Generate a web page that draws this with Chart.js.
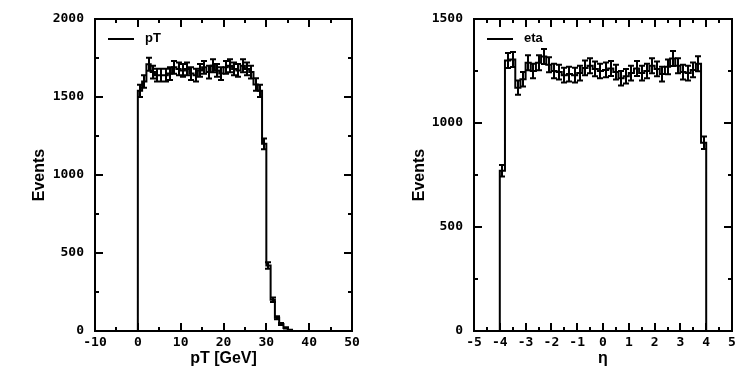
<!DOCTYPE html>
<html>
<head>
<meta charset="utf-8">
<script src="https://cdn.jsdelivr.net/npm/chart.js@4.4.0/dist/chart.umd.min.js"></script>
<style>
  html, body { margin: 0; padding: 0; background: #fff; }
  #wrap { position: relative; width: 744px; height: 373px; }
  .panel { position: absolute; top: 0; width: 372px; height: 373px; }
</style>
</head>
<body>
<div id="wrap">
  <div class="panel" style="left:0"><canvas id="ptChart" width="372" height="373"></canvas></div>
  <div class="panel" style="left:372px"><canvas id="etaChart" width="372" height="373"></canvas></div>
</div>
<script>
// pT histogram, 1 GeV bins
const ptEdges = [0,1,2,3,4,5,6,7,8,9,10,11,12,13,14,15,16,17,18,19,20,21,22,23,24,25,26,27,28,29,30,31,32,33,34,35,36];
const ptCounts = [1540,1600,1710,1660,1640,1640,1640,1650,1690,1680,1670,1680,1650,1640,1670,1690,1660,1700,
                  1670,1650,1690,1700,1680,1670,1700,1680,1660,1580,1540,1200,420,200,85,45,20,6];
const ptXTicks = [-10,0,10,20,30,40,50];
const ptYTicks = [0,500,1000,1500,2000];

// eta histogram, 0.2 bins
const etaEdges = [-4,-3.8,-3.6,-3.4,-3.2,-3,-2.8,-2.6,-2.4,-2.2,-2,-1.8,-1.6,-1.4,-1.2,-1,-0.8,-0.6,-0.4,-0.2,0,
                  0.2,0.4,0.6,0.8,1,1.2,1.4,1.6,1.8,2,2.2,2.4,2.6,2.8,3,3.2,3.4,3.6,3.8,4];
const etaCounts = [770,1300,1305,1170,1210,1290,1250,1290,1320,1280,1250,1245,1230,1235,1230,1240,1265,1275,1260,1250,
                   1255,1262,1245,1215,1225,1240,1262,1240,1250,1275,1260,1235,1270,1310,1275,1245,1240,1255,1285,905];
const etaXTicks = [-5,-4,-3,-2,-1,0,1,2,3,4,5];
const etaYTicks = [0,500,1000,1500];

const tickFont = { family: "'DejaVu Sans Mono', monospace", size: 13, weight: 'bold' };
const titleFont = { family: "'Liberation Sans', Arial, sans-serif", size: 16, weight: 'bold' };

function histPoints(edges, counts) {
  const pts = [{ x: edges[0], y: 0 }];
  counts.forEach((c, i) => pts.push({ x: edges[i], y: c }));
  pts.push({ x: edges[edges.length - 1], y: counts[counts.length - 1] });
  pts.push({ x: edges[edges.length - 1], y: 0 });
  return pts;
}

// frame, inner ticks, error bars and legend
const histDecor = {
  id: 'histDecor',
  afterDatasetsDraw(chart, args, o) {
    const { ctx, chartArea: a, scales: { x, y } } = chart;
    ctx.save();
    ctx.strokeStyle = '#000';
    ctx.lineWidth = 2;

    // error bars
    ctx.beginPath();
    o.counts.forEach((c, i) => {
      const cx = Math.round(x.getPixelForValue((o.edges[i] + o.edges[i + 1]) / 2));
      const e = Math.sqrt(c);
      const y1 = y.getPixelForValue(c + e), y2 = y.getPixelForValue(c - e);
      ctx.moveTo(cx, y1); ctx.lineTo(cx, y2);
      ctx.moveTo(cx - 3, y1); ctx.lineTo(cx + 3, y1);
      ctx.moveTo(cx - 3, y2); ctx.lineTo(cx + 3, y2);
    });
    ctx.stroke();

    // frame
    ctx.strokeRect(a.left, a.top, a.right - a.left, a.bottom - a.top);

    // ticks on all four sides, minor ones halfway
    ctx.beginPath();
    const xt = o.xTicks, yt = o.yTicks;
    for (let i = 0; i < xt.length; i++) {
      const vals = [[xt[i], 8]];
      if (i < xt.length - 1) vals.push([(xt[i] + xt[i + 1]) / 2, 4]);
      vals.forEach(([v, len]) => {
        const px = Math.round(x.getPixelForValue(v));
        ctx.moveTo(px, a.bottom); ctx.lineTo(px, a.bottom - len);
        ctx.moveTo(px, a.top); ctx.lineTo(px, a.top + len);
      });
    }
    for (let i = 0; i < yt.length; i++) {
      const vals = [[yt[i], 8]];
      if (i < yt.length - 1) vals.push([(yt[i] + yt[i + 1]) / 2, 4]);
      vals.forEach(([v, len]) => {
        const py = Math.round(y.getPixelForValue(v));
        ctx.moveTo(a.left, py); ctx.lineTo(a.left + len, py);
        ctx.moveTo(a.right, py); ctx.lineTo(a.right - len, py);
      });
    }
    ctx.stroke();

    // legend
    ctx.beginPath();
    ctx.moveTo(a.left + 13, a.top + 20);
    ctx.lineTo(a.left + 39, a.top + 20);
    ctx.stroke();
    ctx.fillStyle = '#000';
    ctx.font = "bold 13px 'Liberation Sans', Arial, sans-serif";
    ctx.textBaseline = 'middle';
    ctx.fillText(o.label, a.left + 50, a.top + 19);
    ctx.restore();
  }
};

function makeChart(id, cfg) {
  return new Chart(document.getElementById(id), {
    type: 'line',
    data: {
      datasets: [{
        data: histPoints(cfg.edges, cfg.counts),
        stepped: true,
        borderColor: '#000',
        borderWidth: 2,
        pointRadius: 0,
        fill: false
      }]
    },
    options: {
      responsive: false,
      animation: false,
      layout: { padding: { top: 19, right: cfg.padRight, left: 0, bottom: 0 } },
      plugins: {
        legend: { display: false },
        tooltip: { enabled: false },
        histDecor: { edges: cfg.edges, counts: cfg.counts, xTicks: cfg.xTicks, yTicks: cfg.yTicks, label: cfg.label }
      },
      scales: {
        x: {
          type: 'linear',
          min: cfg.xTicks[0],
          max: cfg.xTicks[cfg.xTicks.length - 1],
          grid: { display: false, drawTicks: false },
          border: { display: false },
          afterBuildTicks: s => { s.ticks = cfg.xTicks.map(v => ({ value: v })); },
          afterFit: s => { s.height = 42; s.paddingLeft = 0; s.paddingRight = 0; },
          ticks: { font: tickFont, color: '#000', padding: 4, maxRotation: 0, autoSkip: false,
                   callback: v => String(v) },
          title: { display: true, text: cfg.xTitle, font: titleFont, color: '#000', padding: { top: 0, bottom: 5 } }
        },
        y: {
          type: 'linear',
          min: cfg.yTicks[0],
          max: cfg.yTicks[cfg.yTicks.length - 1],
          grid: { display: false, drawTicks: false },
          border: { display: false },
          afterBuildTicks: s => { s.ticks = cfg.yTicks.map(v => ({ value: v })); },
          afterFit: s => { s.width = cfg.yWidth; },
          ticks: { font: tickFont, color: '#000', padding: 11, autoSkip: false, callback: v => String(v) },
          title: { display: true, text: 'Events', font: titleFont, color: '#000', padding: { top: cfg.yTitlePad, bottom: 0 } }
        }
      }
    },
    plugins: [histDecor]
  });
}

makeChart('ptChart', {
  edges: ptEdges, counts: ptCounts, xTicks: ptXTicks, yTicks: ptYTicks,
  label: 'pT', xTitle: 'pT [GeV]', yWidth: 95, padRight: 20, yTitlePad: 30
});
makeChart('etaChart', {
  edges: etaEdges, counts: etaCounts, xTicks: etaXTicks, yTicks: etaYTicks,
  label: 'eta', xTitle: 'η', yWidth: 102, padRight: 12, yTitlePad: 38
});
</script>
</body>
</html>
